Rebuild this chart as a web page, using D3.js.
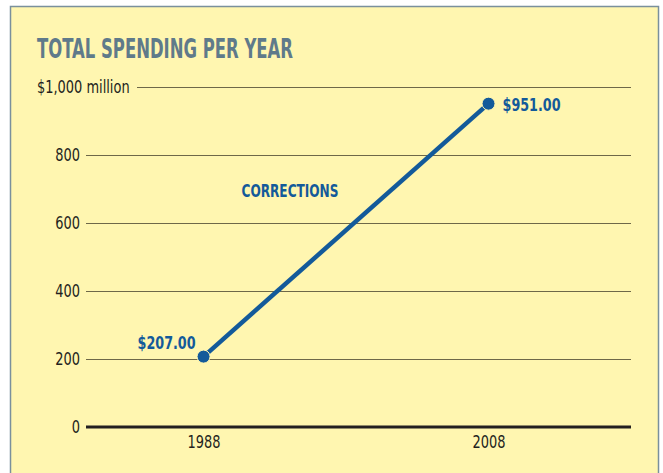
<!DOCTYPE html>
<html>
<head>
<meta charset="utf-8">
<script src="https://cdn.jsdelivr.net/npm/d3@7"></script>
<style>
  body { margin: 0; background: #fff; }
  svg { display: block; }
</style>
</head>
<body>
<svg id="chart" width="663" height="473"></svg>
<script>
const years = [1988, 2008];
const spending = [207, 951];
const pointLabels = ["$207.00", "$951.00"];
const yTicks = [0, 200, 400, 600, 800, 1000];
const yTickLabels = ["0", "200", "400", "600", "800", "$1,000 million"];
const seriesName = "CORRECTIONS";
const title = "TOTAL SPENDING PER YEAR";

const font = "'DejaVu Sans Condensed', 'Liberation Sans Narrow', sans-serif";
const blue = "#135a9a";
// squeeze a condensed face down to the narrow look of the original
const squeeze = 0.8;

function fit(sel) {
  sel.each(function () {
    const w = this.getComputedTextLength();
    d3.select(this).attr("textLength", w * squeeze).attr("lengthAdjust", "spacingAndGlyphs");
  });
}

const svg = d3.select("#chart");

// panel
svg.append("rect")
  .attr("x", 10.5).attr("y", 6.5)
  .attr("width", 648).attr("height", 470)
  .attr("fill", "#fff6b0")
  .attr("stroke", "#7a909c")
  .attr("stroke-width", 1.5);

svg.append("text")
  .attr("x", 37).attr("y", 58)
  .attr("font-family", font)
  .attr("font-weight", "bold")
  .attr("font-size", 26)
  .attr("fill", "#5f7a8a")
  .text(title)
  .attr("textLength", 256)
  .attr("lengthAdjust", "spacingAndGlyphs");

const x = d3.scaleLinear().domain([1979.75, 2018]).range([86, 631]);
const y = d3.scaleLinear().domain([0, 1000]).range([427, 87]);

// gridlines
const grid = svg.append("g");
yTicks.forEach(t => {
  if (t === 0) return;
  grid.append("line")
    .attr("x1", t === 1000 ? 137 : 86).attr("x2", 631)
    .attr("y1", Math.round(y(t)) + 0.5).attr("y2", Math.round(y(t)) + 0.5)
    .attr("stroke", "#6e6848").attr("stroke-width", 1);
});

// y labels
yTicks.forEach((t, i) => {
  const last = t === 1000;
  svg.append("text")
    .attr("x", last ? 37 : 80)
    .attr("y", y(t) + 6)
    .attr("text-anchor", last ? "start" : "end")
    .attr("font-family", font)
    .attr("font-size", 18)
    .attr("fill", "#231f20")
    .text(yTickLabels[i])
    .call(fit);
});

// zero baseline
svg.append("line")
  .attr("x1", 86).attr("x2", 631)
  .attr("y1", y(0)).attr("y2", y(0))
  .attr("stroke", "#231f20").attr("stroke-width", 3);

// x axis labels
const xAxis = svg.append("g")
  .attr("transform", `translate(0,${y(0)})`)
  .call(d3.axisBottom(x).tickValues(years).tickFormat(d3.format("d")).tickSize(0).tickPadding(8));
xAxis.select(".domain").remove();
xAxis.selectAll("text")
  .attr("font-family", font)
  .attr("font-size", 18)
  .attr("fill", "#231f20")
  .call(fit);

const pts = years.map((yr, i) => ({ yr, v: spending[i], label: pointLabels[i] }));

svg.append("path")
  .datum(pts)
  .attr("d", d3.line().x(d => x(d.yr)).y(d => y(d.v)))
  .attr("fill", "none")
  .attr("stroke", blue)
  .attr("stroke-width", 4.5);

svg.selectAll("circle.pt")
  .data(pts)
  .join("circle")
  .attr("class", "pt")
  .attr("cx", d => x(d.yr)).attr("cy", d => y(d.v))
  .attr("r", 6.5)
  .attr("fill", blue)
  .attr("stroke", "#fff6b0")
  .attr("stroke-width", 1);

svg.selectAll("text.pl")
  .data(pts)
  .join("text")
  .attr("class", "pl")
  .attr("x", (d, i) => i === 0 ? x(d.yr) - 8 : x(d.yr) + 14)
  .attr("y", (d, i) => i === 0 ? y(d.v) - 8 : y(d.v) + 7)
  .attr("text-anchor", (d, i) => i === 0 ? "end" : "start")
  .attr("font-family", font)
  .attr("font-weight", "bold")
  .attr("font-size", 18)
  .attr("fill", blue)
  .text(d => d.label)
  .attr("textLength", 58)
  .attr("lengthAdjust", "spacingAndGlyphs");

svg.append("text")
  .attr("x", 290).attr("y", 197)
  .attr("text-anchor", "middle")
  .attr("font-family", font)
  .attr("font-weight", "bold")
  .attr("font-size", 17)
  .attr("fill", blue)
  .text(seriesName)
  .attr("textLength", 97)
  .attr("lengthAdjust", "spacingAndGlyphs");
</script>
</body>
</html>
